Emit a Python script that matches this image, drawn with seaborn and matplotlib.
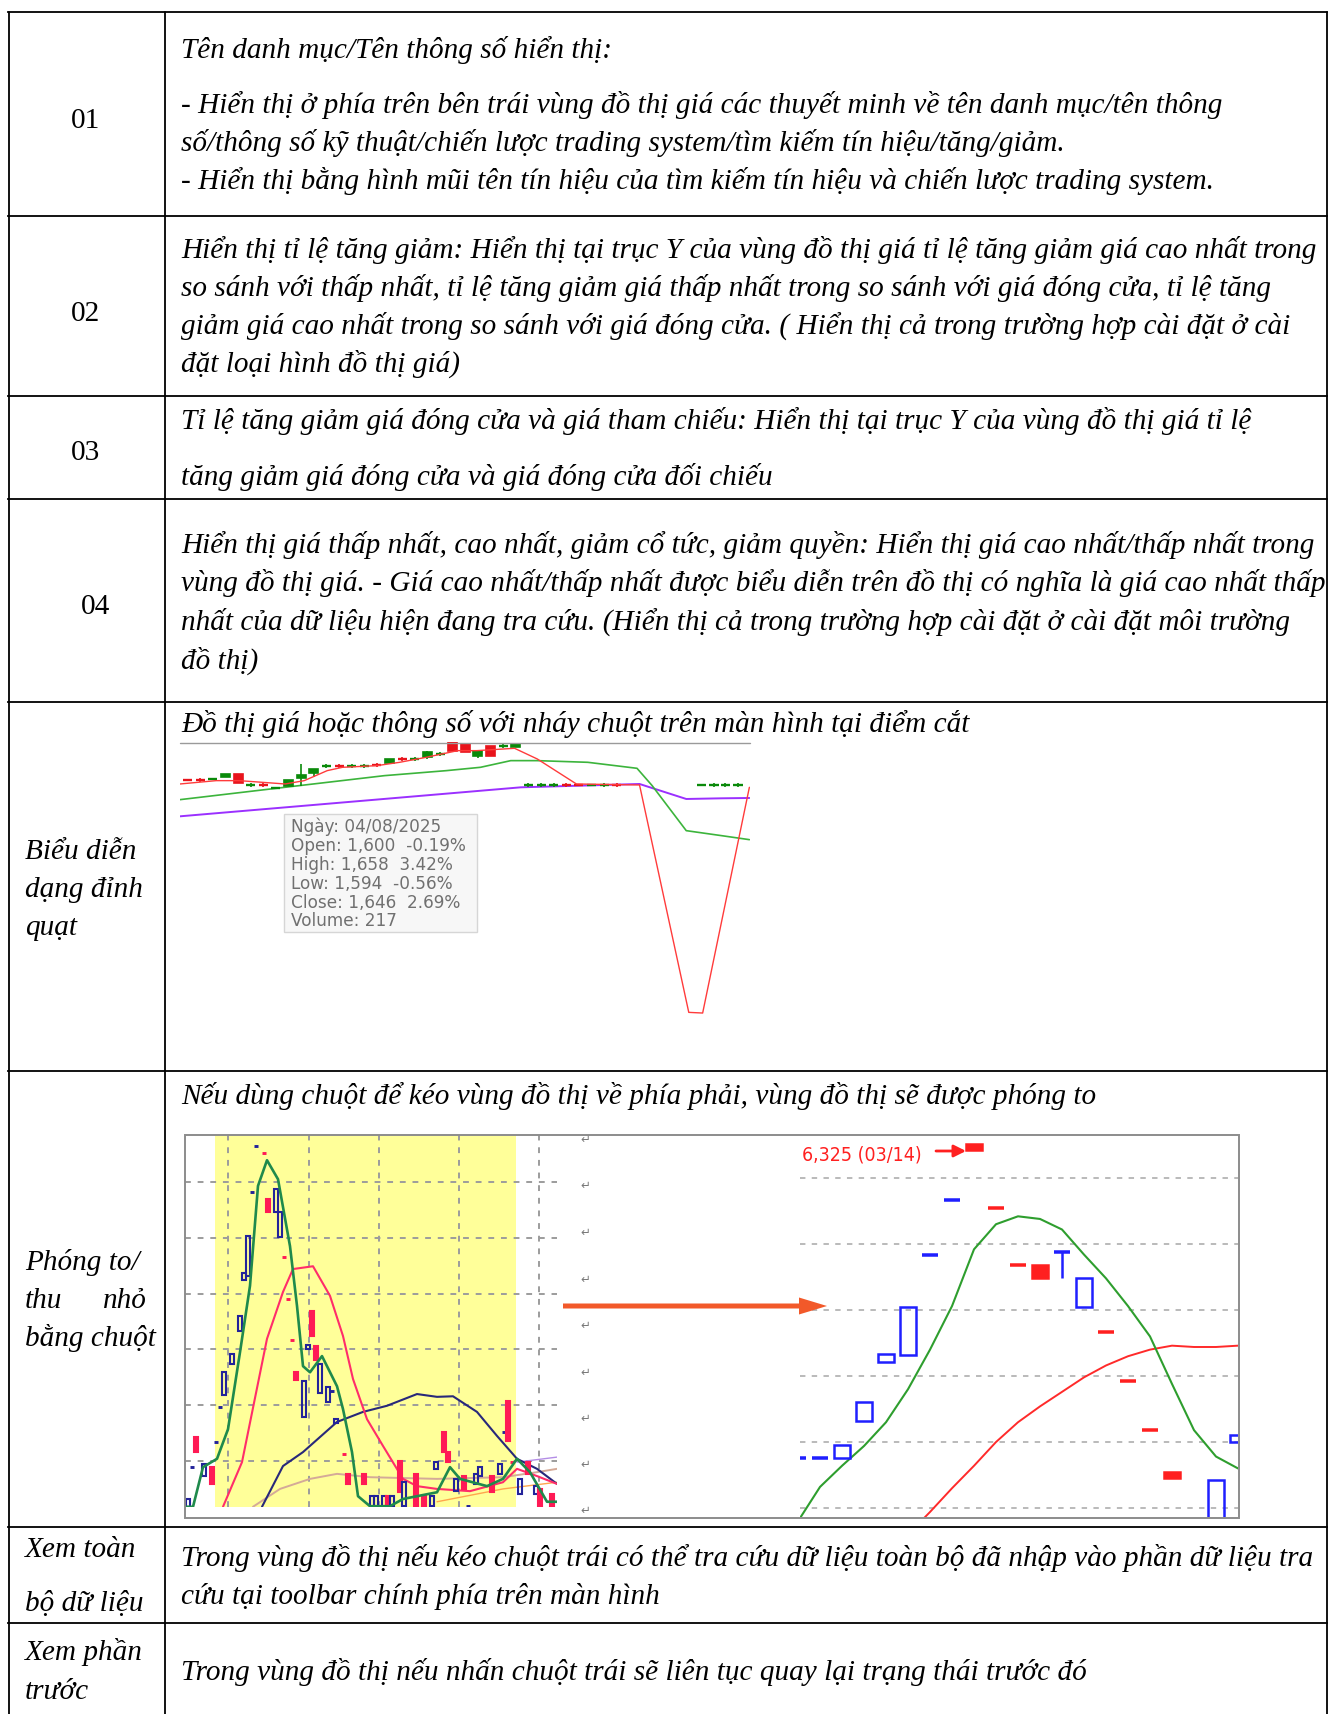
import numpy as np
import matplotlib
matplotlib.use("Agg")
import matplotlib.pyplot as plt
from matplotlib.patches import Rectangle, FancyArrow
from matplotlib import font_manager
import seaborn as sns

sns.set_theme(style="white")
plt.rcParams["font.family"] = ["Liberation Serif", "DejaVu Sans"]

# ---------------- text content ----------------
LEFT_LABELS = ["01", "02", "03", "04"]
ROW1 = ["Tên danh mục/Tên thông số hiển thị:",
        "- Hiển thị ở phía trên bên trái vùng đồ thị giá các thuyết minh về tên danh mục/tên thông",
        "số/thông số kỹ thuật/chiến lược trading system/tìm kiếm tín hiệu/tăng/giảm.",
        "- Hiển thị bằng hình mũi tên tín hiệu của tìm kiếm tín hiệu và chiến lược trading system."]
ROW2 = ["Hiển thị tỉ lệ tăng giảm: Hiển thị tại trục Y của vùng đồ thị giá tỉ lệ tăng giảm giá cao nhất trong",
        "so sánh với thấp nhất, tỉ lệ tăng giảm giá thấp nhất trong so sánh với giá đóng cửa, tỉ lệ tăng",
        "giảm giá cao nhất trong so sánh với giá đóng cửa. ( Hiển thị cả trong trường hợp cài đặt ở cài",
        "đặt loại hình đồ thị giá)"]
ROW3 = ["Tỉ lệ tăng giảm giá đóng cửa và giá tham chiếu: Hiển thị tại trục Y của vùng đồ thị giá tỉ lệ",
        "tăng giảm giá đóng cửa và giá đóng cửa đối chiếu"]
ROW4 = ["Hiển thị giá thấp nhất, cao nhất, giảm cổ tức, giảm quyền: Hiển thị giá cao nhất/thấp nhất trong",
        "vùng đồ thị giá. - Giá cao nhất/thấp nhất được biểu diễn trên đồ thị có nghĩa là giá cao nhất thấp",
        "nhất của dữ liệu hiện đang tra cứu. (Hiển thị cả trong trường hợp cài đặt ở cài đặt môi trường",
        "đồ thị)"]
ROW5 = ["Đồ thị giá hoặc thông số với nháy chuột trên màn hình tại điểm cắt"]
ROW6 = ["Nếu dùng chuột để kéo vùng đồ thị về phía phải, vùng đồ thị sẽ được phóng to"]
ROW7 = ["Trong vùng đồ thị nếu kéo chuột trái có thể tra cứu dữ liệu toàn bộ đã nhập vào phần dữ liệu tra",
        "cứu tại toolbar chính phía trên màn hình"]
ROW8 = ["Trong vùng đồ thị nếu nhấn chuột trái sẽ liên tục quay lại trạng thái trước đó"]
LABEL5 = ["Biểu diễn", "dạng đỉnh", "quạt"]
LABEL6 = ["Phóng to/", ("thu", "nhỏ"), "bằng chuột"]
LABEL7 = ["Xem toàn", "bộ dữ liệu"]
LABEL8 = ["Xem phần", "trước"]
TOOLTIP = ["Ngày: 04/08/2025", "Open: 1,600  -0.19%", "High: 1,658  3.42%",
           "Low: 1,594  -0.56%", "Close: 1,646  2.69%", "Volume: 217"]
MAX_LABEL = "6,325 (03/14)"

# ---------------- chart 1 (crosshair chart) data ----------------
c1_x = list(range(35)) + [40.7, 41.7, 42.6, 43.6, 44.5]
c1_open = [1611, 1611, 1613, 1618, 1628, 1595, 1595, 1587, 1591, 1616, 1631, 1651, 1651, 1651, 1651,
           1655, 1660, 1673, 1673, 1678, 1688, 1698, 1718, 1696, 1681, 1713, 1708,
           1595, 1595, 1595, 1595, 1595, 1595, 1595, 1595, 1595, 1595, 1595, 1595, 1595]
c1_close = [1611, 1611, 1613, 1628, 1601, 1595, 1595, 1587, 1611, 1625, 1643, 1651, 1651, 1651, 1651,
            1655, 1673, 1673, 1673, 1693, 1688, 1730, 1693, 1683, 1711, 1713, 1718,
            1595, 1595, 1595, 1595, 1595, 1595, 1595, 1595, 1595, 1595, 1595, 1595, 1595]
c1_high = [1611, 1617, 1613, 1628, 1628, 1601, 1601, 1587, 1611, 1658, 1643, 1657, 1657, 1657, 1657,
           1661, 1673, 1679, 1679, 1698, 1694, 1730, 1718, 1696, 1711, 1719, 1718,
           1601, 1601, 1601, 1601, 1595, 1595, 1601, 1601, 1595, 1601, 1601, 1601, 1601]
c1_low = [1611, 1605, 1613, 1618, 1601, 1589, 1589, 1587, 1591, 1591, 1618, 1645, 1645, 1645, 1645,
          1649, 1660, 1667, 1667, 1673, 1682, 1693, 1693, 1675, 1681, 1707, 1708,
          1589, 1589, 1589, 1589, 1595, 1595, 1589, 1589, 1595, 1589, 1589, 1589, 1589]
c1_col = list("rrggrgrgggggrggrgrgggrrgrg") + list("ggggrrgg") + ["r", "g", "g", "g", "g"]
c1_red_x = [-0.6, 2.27, 4.09, 7.73, 9.24, 11.06, 12.27, 15.0, 16.8, 18.9, 21.4, 22.9, 25.9, 27.7,
            30.8, 35.8, 39.7, 40.8, 44.5]
c1_red_y = [1598, 1608, 1608, 1598, 1608, 1638, 1648, 1653, 1663, 1678, 1698, 1698, 1705, 1673,
            1598, 1595, 913, 911, 1588]
c1_green_x = [-0.6, 7.7, 15.6, 20.5, 23.2, 25.6, 27.7, 31.7, 35.6, 36.8, 39.5, 42.3, 44.5]
c1_green_y = [1551, 1588, 1623, 1638, 1648, 1668, 1668, 1663, 1645, 1593, 1458, 1443, 1431]
c1_purple_x = [-0.6, 26.4, 35.8, 39.5, 42.3, 44.5]
c1_purple_y = [1501, 1588, 1598, 1553, 1555, 1556]

# ---------------- chart 2a (zoomed-out chart) data ----------------
l_i = [0, 1, 2, 4, 6, 7, 8, 9, 11, 13, 14, 15, 16, 17, 19, 20, 22, 23, 24, 25, 26, 27, 29, 30, 31,
       32, 33, 35, 36, 37, 39, 40, 44, 46, 47, 49, 50, 51, 53, 54, 57, 59, 61, 62, 64, 65, 67, 69,
       70, 72, 73, 76, 78, 79, 80, 81, 83, 85, 87, 88, 91]
l_open = [5818, 5889, 5943, 5873, 5889, 5934, 5997, 6018, 6074, 6133, 6225, 6232, 6382, 6464, 6452,
          6370, 6346, 6301, 6266, 6190, 6117, 6059, 5979, 6100, 6169, 6106, 6022, 6006, 6025, 5968,
          5913, 5877, 5877, 5819, 5819, 5819, 5837, 5819, 5900, 5819, 5877, 5837, 5819, 5886, 5952,
          5916, 5846, 5873, 5819, 5859, 5873, 5873, 5877, 5952, 6008, 5898, 5841, 5898, 5841, 5850, 5841]
l_close = [5832, 5889, 5916, 5895, 5859, 5934, 5997, 6059, 6092, 6160, 6237, 6303, 6382, 6464, 6452,
           6346, 6387, 6346, 6266, 6190, 6117, 6045, 6043, 6108, 6124, 6081, 6074, 6033, 6025, 5976,
           5913, 5859, 5859, 5837, 5837, 5837, 5819, 5837, 5844, 5862, 5819, 5819, 5837, 5898, 5916,
           5898, 5868, 5850, 5819, 5877, 5889, 5844, 5895, 5952, 5936, 5898, 5868, 5877, 5855, 5819, 5819]
l_col = list("bbrbrbbbbbbbbbrrbbrrrrbbrrbbbbrrrbbbrbrbrrbbrrbrbbbrbbrrbrbrr")
l_green_x = [-0.5, 1.25, 3.75, 7.25, 10, 13, 15.5, 17.5, 19.75, 22.5, 25.5, 27.25, 28.75, 30.5, 33.5,
             37.25, 38.75, 41, 42.5, 45.5, 50.5, 53.75, 62.25, 65.5, 68, 74.75, 78.75, 82.25, 85.5,
             89.75, 92.25]
l_green_y = [5818, 5818, 5889, 5904, 5957, 6095, 6214, 6393, 6439, 6405, 6285, 6178, 6070, 6059, 6088,
             6034, 5993, 5916, 5837, 5819, 5819, 5832, 5844, 5889, 5868, 5855, 5868, 5904, 5880,
             5827, 5827]
l_red_x = [8.75, 13.5, 19.75, 23.75, 26.25, 31.25, 35.5, 38.75, 41.25, 44.75, 48.75, 53.75, 57.25,
           62.25, 70.5, 78.75, 82.25, 87.25, 92.25]
l_red_y = [5818, 5898, 6119, 6203, 6244, 6249, 6196, 6124, 6047, 5975, 5927, 5868, 5855, 5850, 5846,
           5862, 5886, 5873, 5859]
l_navy_x = [18.5, 23.75, 28.75, 37.25, 43.75, 49.75, 57.25, 62.25, 66.25, 72.25, 77.25, 82.25, 87.25, 92.25]
l_navy_y = [5818, 5891, 5916, 5970, 5988, 5999, 6020, 6015, 6016, 5988, 5945, 5904, 5886, 5859]
l_tan_x = [16.25, 23, 30.5, 37.25, 45.5, 62.25, 78.75, 87.25, 92.25]
l_tan_y = [5818, 5850, 5868, 5877, 5871, 5868, 5871, 5880, 5886]
l_lav_x = [82.25, 92.25]
l_lav_y = [5898, 5907]
l_orange_x = [62.25, 78.75, 92.25]
l_orange_y = [5827, 5850, 5862]

# ---------------- chart 2b (zoomed-in chart) data ----------------
r_i = [0, 1, 2, 3, 4, 5, 6, 7, 8, 9, 10, 11, 12, 13, 14, 15, 16, 17, 19, 20]
r_open = [6088, 6088, 6088, 6116, 6161, 6166, 6242, 6283, 6326, 6277, 6234, 6234, 6244, 6202, 6183,
          6146, 6109, 6077, 6030, 6100]
r_close = [6088, 6088, 6098, 6130, 6167, 6202, 6242, 6283, 6321, 6277, 6234, 6224, 6244, 6224, 6183,
           6146, 6109, 6073, 6071, 6105]
r_low = [6088, 6088, 6088, 6116, 6161, 6166, 6242, 6283, 6321, 6277, 6234, 6224, 6224, 6202, 6183,
         6146, 6109, 6073, 6030, 6100]
r_col = list("bbbbbbbbrrrrbbrrrrbb")
r_green_x = list(range(21))
r_green_y = [6040, 6066, 6082, 6097, 6115, 6140, 6170, 6203, 6246, 6265, 6271, 6269, 6261, 6242, 6224,
             6203, 6180, 6144, 6109, 6089, 6080]
r_red_x = list(range(5, 21))
r_red_y = [6030, 6047, 6065, 6082, 6100, 6115, 6127, 6138, 6149, 6158, 6165, 6170, 6173, 6172, 6172, 6173]

# ---------------- figure ----------------
W, H = 1329, 1715
fig = plt.figure(figsize=(W / 100, H / 100), dpi=100)
fig.patch.set_facecolor("white")


def pax(x0, y0, x1, y1):
    return fig.add_axes([x0 / W, 1 - y1 / H, (x1 - x0) / W, (y1 - y0) / H])


def candles(ax, x, o, c, h, l, cols, cmap, hollow, w, lw):
    for xi, oi, ci, hi, li, co in zip(x, o, c, h, l, cols):
        color = cmap[co]
        top, bot = max(oi, ci), min(oi, ci)
        if hi > top:
            ax.vlines(xi, top, hi, color=color, lw=lw, zorder=3)
        if li < bot:
            ax.vlines(xi, li, bot, color=color, lw=lw, zorder=3)
        if top - bot < 0.5:
            ax.hlines(oi, xi - w / 2, xi + w / 2, color=color, lw=lw * 1.4, zorder=4)
        else:
            ax.bar(xi, top - bot, bottom=bot, width=w,
                   facecolor="none" if co in hollow else color,
                   edgecolor=color, linewidth=lw, zorder=4)


def line(ax, x, y, color, lw, z=2):
    sns.lineplot(x=x, y=y, ax=ax, color=color, lw=lw, estimator=None, sort=False,
                 legend=False, zorder=z)


# chart 1
a1 = pax(180, 743.3, 750, 1017.7)
line(a1, c1_purple_x, c1_purple_y, "#9b30ff", 1.4)
line(a1, c1_green_x, c1_green_y, "#3cb43c", 1.2)
candles(a1, c1_x, c1_open, c1_close, c1_high, c1_low, c1_col,
        {"g": "#0a8a0a", "r": "#e8141c"}, set(), 0.72, 1.2)
line(a1, c1_red_x, c1_red_y, "#ff3b3b", 1.0, z=5)
a1.set_xlim(-0.6, 44.55)
a1.set_ylim(900, 1723)
a1.set_axis_off()

# chart 2a
a2 = pax(185, 1136, 557, 1508)
a2.axvspan(6.75, 82, color="#ffff99", zorder=0.1, lw=0)
line(a2, l_tan_x, l_tan_y, "#d4aa98", 1.4)
line(a2, l_orange_x, l_orange_y, "#ffa64d", 1.0)
line(a2, l_lav_x, l_lav_y, "#b48ee6", 1.0)
line(a2, l_navy_x, l_navy_y, "#28287a", 1.5)
line(a2, l_red_x, l_red_y, "#ff2d6a", 1.5)
candles(a2, l_i, l_open, l_close, l_open, l_close, l_col,
        {"b": "#23239a", "r": "#ff1a55"}, {"b"}, 0.95, 1.5)
line(a2, l_green_x, l_green_y, "#1f8a4c", 1.9, z=5)
a2.set_xlim(-0.75, 92.25)
a2.set_ylim(5817.6, 6484.2)
a2.set_xticks([10, 30.25, 47.75, 67.75, 87.75])
a2.set_yticks([5900, 6000, 6100, 6200, 6300, 6400])
a2.set_axisbelow(True)
a2.grid(True, color="#9c9c9c", lw=1.4, ls=(0, (3, 3.5)))
a2.tick_params(length=0, labelbottom=False, labelleft=False)
for s in a2.spines.values():
    s.set_visible(False)
a2.set_facecolor("none")

# chart 2b
a3 = pax(800, 1136, 1238, 1518)
line(a3, r_red_x, r_red_y, "#ff2a2a", 1.4)
line(a3, r_green_x, r_green_y, "#2e9e2e", 1.5)
candles(a3, r_i, r_open, r_close, r_open, r_low, r_col,
        {"b": "#1f1fff", "r": "#ff1f1f"}, {"b"}, 0.72, 1.8)
a3.set_xlim(0.09, 20.0)
a3.set_ylim(6043.2, 6332.6)
a3.set_xticks([])
a3.set_yticks([6050, 6100, 6150, 6200, 6250, 6300])
a3.set_axisbelow(True)
a3.grid(True, axis="y", color="#b4b4b4", lw=1.3, ls=(0, (3, 3.5)))
a3.tick_params(length=0, labelbottom=False, labelleft=False)
for s in a3.spines.values():
    s.set_visible(False)
a3.set_facecolor("none")

# ---------------- overlay (table, text) ----------------
ov = fig.add_axes([0, 0, 1, 1])
ov.set_xlim(0, W)
ov.set_ylim(H, 0)
ov.set_axis_off()
ov.patch.set_alpha(0)

# font size fitted to reference line width
probe = ov.text(0, 0, ROW2[0], fontsize=20, style="italic")
fig.canvas.draw()
FS = 20 * 1138 / probe.get_window_extent().width
probe.remove()

LW = 1.3
for y in [13, 217, 397, 500, 703, 1072, 1528, 1624]:
    ov.plot([8, 1327], [y, y], color="black", lw=LW, solid_capstyle="projecting")
for x in [8.5, 164.5, 1326.5]:
    ov.plot([x, x], [13, H + 5], color="black", lw=LW)


def txt(x, y, s, italic=True, **kw):
    ov.text(x, y, s, fontsize=FS, style="italic" if italic else "normal", va="baseline",
            color="black", **kw)


TX = 181
for s, y in zip(ROW1, [58, 113, 151, 189]):
    txt(TX, y, s)
for s, y in zip(ROW2, [258, 296, 334, 372]):
    txt(TX, y, s)
for s, y in zip(ROW3, [429, 485]):
    txt(TX, y, s)
for s, y in zip(ROW4, [553, 591, 630, 669]):
    txt(TX, y, s)
txt(TX, 732, ROW5[0])
txt(TX, 1104, ROW6[0])
for s, y in zip(ROW7, [1566, 1604]):
    txt(TX, y, s)
txt(TX, 1680, ROW8[0])

for s, x, y in zip(LEFT_LABELS, [86, 86, 86, 96], [128, 321, 460, 614]):
    txt(x, y, s, italic=False, ha="center")
for s, y in zip(LABEL5, [859, 897, 935]):
    txt(25, y, s)
txt(25, 1270, LABEL6[0])
txt(25, 1308, LABEL6[1][0])
txt(147, 1308, LABEL6[1][1], ha="right")
txt(25, 1346, LABEL6[2])
for s, y in zip(LABEL7, [1557, 1611]):
    txt(25, y, s)
for s, y in zip(LABEL8, [1660, 1699]):
    txt(25, y, s)

# chart 1 decorations
ov.plot([180, 750], [743.5, 743.5], color="#9a9a9a", lw=1.0)
ov.add_patch(Rectangle((284, 814.5), 193, 118, facecolor="#f7f7f7", edgecolor="#d6d6d6", lw=1.0,
                       zorder=6))
for s, y in zip(TOOLTIP, [832, 851, 870, 889, 908, 926]):
    ov.text(291, y, s, fontsize=12.2, family="DejaVu Sans", color="#707070", va="baseline", zorder=7)

# chart 2 frame, arrow, marks
ov.add_patch(Rectangle((184.5, 1135.5), 1054, 383, facecolor="none", edgecolor="#8c8c8c", lw=1.4))
ov.add_patch(FancyArrow(563, 1307, 264, 0, width=5, head_width=17, head_length=28,
                        length_includes_head=True, color="#f2592a", lw=0))
for y in [1139, 1185, 1232, 1279, 1325, 1372, 1418, 1464, 1510]:
    ov.text(585, y, "↵", fontsize=8.5, family="DejaVu Sans", color="#7a7a7a", ha="center",
            va="center")

names = {f.name for f in font_manager.fontManager.ttflist}
if "Liberation Sans Narrow" in names:
    fprops = dict(family="Liberation Sans Narrow", fontsize=17)
else:
    fprops = dict(family="DejaVu Sans", fontsize=14, fontstretch="condensed")
ov.text(802, 1161, MAX_LABEL, color="#ff2020", va="baseline", **fprops)
ov.annotate("", xy=(966, 1152), xytext=(936, 1152),
            arrowprops=dict(arrowstyle="-|>", color="#ff2020", lw=2, mutation_scale=18,
                            shrinkA=0, shrinkB=0))

fig.savefig("out.png", dpi=100, facecolor="white")
